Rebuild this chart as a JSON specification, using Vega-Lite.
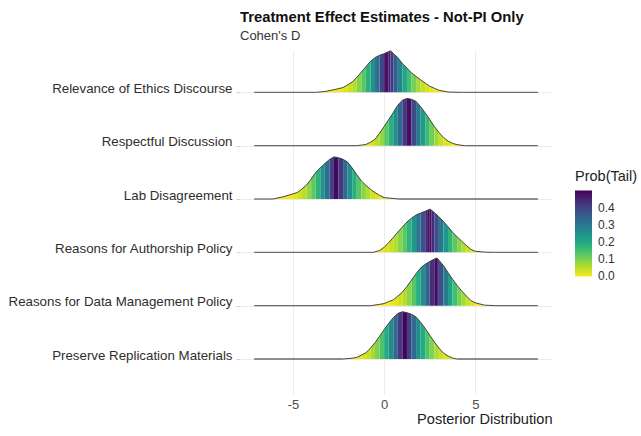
{
 "$schema": "https://vega.github.io/schema/vega-lite/v6.json",
 "width": 312, "height": 344,
 "autosize": {"type": "none"},
 "padding": {"left": 240, "top": 50, "right": 89, "bottom": 42},
 "background": "white",
 "config": {"view": {"stroke": null}, "font": "Liberation Sans"},
 "title": {"text": "Treatment Effect Estimates - Not-PI Only", "subtitle": "Cohen's D", "anchor": "start", "frame": "group", "fontSize": 14.8, "fontWeight": "bold", "color": "#111111", "subtitleFontSize": 13, "subtitleColor": "#333333", "subtitlePadding": 5, "offset": 6, "font": "Liberation Sans", "subtitleFont": "Liberation Sans"},
 "datasets": {
  "b": [
   {"k":5,"a":-7.12,"b":-3.75},{"k":5,"a":4.25,"b":8.43},
   {"k":4,"a":-7.12,"b":-1.5},{"k":4,"a":4.4,"b":8.43},
   {"k":3,"a":-7.12,"b":-6.1},{"k":3,"a":0.8,"b":8.43},
   {"k":2,"a":-7.12,"b":-0.6},{"k":2,"a":6.0,"b":8.43},
   {"k":1,"a":-7.12,"b":-0.75},{"k":1,"a":6.1,"b":8.43},
   {"k":0,"a":-7.12,"b":-2.25},{"k":0,"a":4.0,"b":8.43}
  ],
  "s": [
   {"k":5,"x":[-3.75,-3.25],"d":[0,0.015],"p":0.001},
   {"k":5,"x":[-3.25,-2.75],"d":[0.015,0.05],"p":0.003},
   {"k":5,"x":[-2.75,-2.25],"d":[0.05,0.09],"p":0.01},
   {"k":5,"x":[-2.25,-2],"d":[0.09,0.14],"p":0.023},
   {"k":5,"x":[-2,-1.75],"d":[0.14,0.195],"p":0.037},
   {"k":5,"x":[-1.75,-1.5],"d":[0.195,0.28],"p":0.058},
   {"k":5,"x":[-1.5,-1.25],"d":[0.28,0.38],"p":0.089},
   {"k":5,"x":[-1.25,-1],"d":[0.38,0.48],"p":0.128},
   {"k":5,"x":[-1,-0.75],"d":[0.48,0.58],"p":0.18},
   {"k":5,"x":[-0.75,-0.5],"d":[0.58,0.65],"p":0.242},
   {"k":5,"x":[-0.5,-0.25],"d":[0.65,0.695],"p":0.315},
   {"k":5,"x":[-0.25,0],"d":[0.695,0.725],"p":0.395},
   {"k":5,"x":[0,0.25],"d":[0.725,0.765],"p":0.481},
   {"k":5,"x":[0.25,0.35],"d":[0.765,0.78],"p":0.459},
   {"k":5,"x":[0.35,0.5],"d":[0.78,0.73],"p":0.416},
   {"k":5,"x":[0.5,0.75],"d":[0.73,0.65],"p":0.349},
   {"k":5,"x":[0.75,1],"d":[0.65,0.54],"p":0.273},
   {"k":5,"x":[1,1.25],"d":[0.54,0.455],"p":0.206},
   {"k":5,"x":[1.25,1.5],"d":[0.455,0.365],"p":0.15},
   {"k":5,"x":[1.5,1.75],"d":[0.365,0.3],"p":0.104},
   {"k":5,"x":[1.75,2],"d":[0.3,0.235],"p":0.07},
   {"k":5,"x":[2,2.25],"d":[0.235,0.175],"p":0.045},
   {"k":5,"x":[2.25,2.5],"d":[0.175,0.115],"p":0.028},
   {"k":5,"x":[2.5,2.75],"d":[0.115,0.077],"p":0.017},
   {"k":5,"x":[2.75,3],"d":[0.077,0.04],"p":0.01},
   {"k":5,"x":[3,3.5],"d":[0.04,0.006],"p":0.004},
   {"k":5,"x":[3.5,4.25],"d":[0.006,0],"p":0.001},

   {"k":4,"x":[-1.5,-1],"d":[0,0.022],"p":0.007},
   {"k":4,"x":[-1,-0.75],"d":[0.022,0.065],"p":0.018},
   {"k":4,"x":[-0.75,-0.5],"d":[0.065,0.12],"p":0.031},
   {"k":4,"x":[-0.5,-0.25],"d":[0.12,0.235],"p":0.053},
   {"k":4,"x":[-0.25,0],"d":[0.235,0.36],"p":0.083},
   {"k":4,"x":[0,0.25],"d":[0.36,0.49],"p":0.126},
   {"k":4,"x":[0.25,0.5],"d":[0.49,0.62],"p":0.181},
   {"k":4,"x":[0.5,0.75],"d":[0.62,0.76],"p":0.251},
   {"k":4,"x":[0.75,1],"d":[0.76,0.853],"p":0.332},
   {"k":4,"x":[1,1.25],"d":[0.853,0.885],"p":0.423},
   {"k":4,"x":[1.25,1.5],"d":[0.885,0.87],"p":0.483},
   {"k":4,"x":[1.5,1.75],"d":[0.87,0.83],"p":0.389},
   {"k":4,"x":[1.75,2],"d":[0.83,0.73],"p":0.302},
   {"k":4,"x":[2,2.25],"d":[0.73,0.615],"p":0.225},
   {"k":4,"x":[2.25,2.5],"d":[0.615,0.49],"p":0.16},
   {"k":4,"x":[2.5,2.75],"d":[0.49,0.36],"p":0.109},
   {"k":4,"x":[2.75,3],"d":[0.36,0.25],"p":0.071},
   {"k":4,"x":[3,3.25],"d":[0.25,0.155],"p":0.044},
   {"k":4,"x":[3.25,3.5],"d":[0.155,0.086],"p":0.026},
   {"k":4,"x":[3.5,3.75],"d":[0.086,0.043],"p":0.014},
   {"k":4,"x":[3.75,4],"d":[0.043,0.02],"p":0.008},
   {"k":4,"x":[4,4.4],"d":[0.02,0],"p":0.003},

   {"k":3,"x":[-6.1,-5.5],"d":[0,0.045],"p":0.002},
   {"k":3,"x":[-5.5,-5],"d":[0.045,0.096],"p":0.008},
   {"k":3,"x":[-5,-4.75],"d":[0.096,0.123],"p":0.019},
   {"k":3,"x":[-4.75,-4.5],"d":[0.123,0.19],"p":0.033},
   {"k":3,"x":[-4.5,-4.25],"d":[0.19,0.266],"p":0.054},
   {"k":3,"x":[-4.25,-4],"d":[0.266,0.374],"p":0.083},
   {"k":3,"x":[-4,-3.75],"d":[0.374,0.5],"p":0.123},
   {"k":3,"x":[-3.75,-3.5],"d":[0.5,0.584],"p":0.176},
   {"k":3,"x":[-3.5,-3.25],"d":[0.584,0.665],"p":0.24},
   {"k":3,"x":[-3.25,-3],"d":[0.665,0.74],"p":0.317},
   {"k":3,"x":[-3,-2.75],"d":[0.74,0.79],"p":0.401},
   {"k":3,"x":[-2.75,-2.5],"d":[0.79,0.775],"p":0.491},
   {"k":3,"x":[-2.5,-2.25],"d":[0.775,0.744],"p":0.419},
   {"k":3,"x":[-2.25,-2],"d":[0.744,0.692],"p":0.333},
   {"k":3,"x":[-2,-1.75],"d":[0.692,0.58],"p":0.255},
   {"k":3,"x":[-1.75,-1.5],"d":[0.58,0.458],"p":0.188},
   {"k":3,"x":[-1.5,-1.25],"d":[0.458,0.34],"p":0.133},
   {"k":3,"x":[-1.25,-1],"d":[0.34,0.257],"p":0.09},
   {"k":3,"x":[-1,-0.75],"d":[0.257,0.182],"p":0.058},
   {"k":3,"x":[-0.75,-0.5],"d":[0.182,0.12],"p":0.036},
   {"k":3,"x":[-0.5,-0.25],"d":[0.12,0.069],"p":0.022},
   {"k":3,"x":[-0.25,0],"d":[0.069,0.027],"p":0.012},
   {"k":3,"x":[0,0.8],"d":[0.027,0],"p":0.003},

   {"k":2,"x":[-0.6,-0.25],"d":[0,0.035],"p":0.007},
   {"k":2,"x":[-0.25,0],"d":[0.035,0.095],"p":0.014},
   {"k":2,"x":[0,0.25],"d":[0.095,0.18],"p":0.024},
   {"k":2,"x":[0.25,0.5],"d":[0.18,0.278],"p":0.038},
   {"k":2,"x":[0.5,0.75],"d":[0.278,0.38],"p":0.059},
   {"k":2,"x":[0.75,1],"d":[0.38,0.474],"p":0.088},
   {"k":2,"x":[1,1.25],"d":[0.474,0.57],"p":0.126},
   {"k":2,"x":[1.25,1.5],"d":[0.57,0.64],"p":0.174},
   {"k":2,"x":[1.5,1.75],"d":[0.64,0.7],"p":0.233},
   {"k":2,"x":[1.75,2],"d":[0.7,0.736],"p":0.301},
   {"k":2,"x":[2,2.25],"d":[0.736,0.77],"p":0.377},
   {"k":2,"x":[2.25,2.4],"d":[0.77,0.792],"p":0.442},
   {"k":2,"x":[2.4,2.5],"d":[0.792,0.81],"p":0.483},
   {"k":2,"x":[2.5,2.6],"d":[0.81,0.788],"p":0.483},
   {"k":2,"x":[2.6,2.75],"d":[0.788,0.746],"p":0.442},
   {"k":2,"x":[2.75,3],"d":[0.746,0.668],"p":0.377},
   {"k":2,"x":[3,3.25],"d":[0.668,0.58],"p":0.301},
   {"k":2,"x":[3.25,3.5],"d":[0.58,0.482],"p":0.233},
   {"k":2,"x":[3.5,3.75],"d":[0.482,0.377],"p":0.174},
   {"k":2,"x":[3.75,4],"d":[0.377,0.29],"p":0.126},
   {"k":2,"x":[4,4.25],"d":[0.29,0.21],"p":0.088},
   {"k":2,"x":[4.25,4.5],"d":[0.21,0.13],"p":0.059},
   {"k":2,"x":[4.5,4.75],"d":[0.13,0.057],"p":0.038},
   {"k":2,"x":[4.75,5],"d":[0.057,0.02],"p":0.024},
   {"k":2,"x":[5,5.5],"d":[0.02,0.005],"p":0.011},
   {"k":2,"x":[5.5,6],"d":[0.005,0],"p":0.003},

   {"k":1,"x":[-0.75,-0.25],"d":[0,0.025],"p":0.001},
   {"k":1,"x":[-0.25,0],"d":[0.025,0.04],"p":0.003},
   {"k":1,"x":[0,0.25],"d":[0.04,0.076],"p":0.005},
   {"k":1,"x":[0.25,0.5],"d":[0.076,0.11],"p":0.01},
   {"k":1,"x":[0.5,0.75],"d":[0.11,0.18],"p":0.019},
   {"k":1,"x":[0.75,1],"d":[0.18,0.253],"p":0.034},
   {"k":1,"x":[1,1.25],"d":[0.253,0.36],"p":0.055},
   {"k":1,"x":[1.25,1.5],"d":[0.36,0.48],"p":0.087},
   {"k":1,"x":[1.5,1.75],"d":[0.48,0.6],"p":0.132},
   {"k":1,"x":[1.75,2],"d":[0.6,0.71],"p":0.189},
   {"k":1,"x":[2,2.25],"d":[0.71,0.777],"p":0.26},
   {"k":1,"x":[2.25,2.5],"d":[0.777,0.83],"p":0.343},
   {"k":1,"x":[2.5,2.75],"d":[0.83,0.873],"p":0.434},
   {"k":1,"x":[2.75,2.9],"d":[0.873,0.894],"p":0.49},
   {"k":1,"x":[2.9,3],"d":[0.894,0.854],"p":0.443},
   {"k":1,"x":[3,3.25],"d":[0.854,0.752],"p":0.378},
   {"k":1,"x":[3.25,3.5],"d":[0.752,0.62],"p":0.292},
   {"k":1,"x":[3.5,3.75],"d":[0.62,0.495],"p":0.216},
   {"k":1,"x":[3.75,4],"d":[0.495,0.38],"p":0.153},
   {"k":1,"x":[4,4.25],"d":[0.38,0.277],"p":0.103},
   {"k":1,"x":[4.25,4.5],"d":[0.277,0.184],"p":0.067},
   {"k":1,"x":[4.5,4.75],"d":[0.184,0.097],"p":0.041},
   {"k":1,"x":[4.75,5],"d":[0.097,0.053],"p":0.024},
   {"k":1,"x":[5,5.5],"d":[0.053,0.01],"p":0.01},
   {"k":1,"x":[5.5,6.1],"d":[0.01,0],"p":0.002},

   {"k":0,"x":[-2.25,-1.75],"d":[0,0.015],"p":0.003},
   {"k":0,"x":[-1.75,-1.5],"d":[0.015,0.031],"p":0.008},
   {"k":0,"x":[-1.5,-1.25],"d":[0.031,0.074],"p":0.015},
   {"k":0,"x":[-1.25,-1],"d":[0.074,0.116],"p":0.026},
   {"k":0,"x":[-1,-0.75],"d":[0.116,0.205],"p":0.041},
   {"k":0,"x":[-0.75,-0.5],"d":[0.205,0.306],"p":0.065},
   {"k":0,"x":[-0.5,-0.25],"d":[0.306,0.427],"p":0.097},
   {"k":0,"x":[-0.25,0],"d":[0.427,0.55],"p":0.139},
   {"k":0,"x":[0,0.25],"d":[0.55,0.669],"p":0.194},
   {"k":0,"x":[0.25,0.5],"d":[0.669,0.775],"p":0.258},
   {"k":0,"x":[0.5,0.75],"d":[0.775,0.854],"p":0.334},
   {"k":0,"x":[0.75,1],"d":[0.854,0.887],"p":0.416},
   {"k":0,"x":[1,1.25],"d":[0.887,0.869],"p":0.498},
   {"k":0,"x":[1.25,1.5],"d":[0.869,0.84],"p":0.412},
   {"k":0,"x":[1.5,1.75],"d":[0.84,0.788],"p":0.33},
   {"k":0,"x":[1.75,2],"d":[0.788,0.69],"p":0.256},
   {"k":0,"x":[2,2.25],"d":[0.69,0.574],"p":0.191},
   {"k":0,"x":[2.25,2.5],"d":[0.574,0.447],"p":0.138},
   {"k":0,"x":[2.5,2.75],"d":[0.447,0.32],"p":0.095},
   {"k":0,"x":[2.75,3],"d":[0.32,0.205],"p":0.064},
   {"k":0,"x":[3,3.25],"d":[0.205,0.1125],"p":0.041},
   {"k":0,"x":[3.25,3.5],"d":[0.1125,0.056],"p":0.025},
   {"k":0,"x":[3.5,3.75],"d":[0.056,0.017],"p":0.015},
   {"k":0,"x":[3.75,4],"d":[0.017,0],"p":0.008}
  ]
 },
 "layer": [
  {
   "data": {"name": "b"},
   "mark": {"type": "rule", "color": "#6b6b6b", "strokeWidth": 1.3},
   "encoding": {
    "x": {"field": "a", "type": "quantitative", "title": "Posterior Distribution",
      "scale": {"domain": [-7.9, 9.2], "nice": false, "zero": false},
      "axis": {"values": [-5, 0, 5], "labelExpr": "'' + datum.value", "titleAnchor": "end", "titleFontSize": 14.6, "titleFontWeight": "normal", "titleColor": "#222222", "titlePadding": 0, "titleFont": "Liberation Sans", "domain": false, "ticks": false, "labelFontSize": 13, "labelColor": "#4d4d4d", "labelFont": "Liberation Sans", "labelPadding": 4, "grid": true, "gridColor": "#ebebeb", "gridWidth": 1}},
    "x2": {"field": "b"},
    "y": {"field": "k", "type": "quantitative", "title": null,
      "scale": {"domain": [-0.656, 5.794], "nice": false, "zero": false},
      "axis": {"values": [0, 1, 2, 3, 4, 5], "labelExpr": "['Preserve Replication Materials','Reasons for Data Management Policy','Reasons for Authorship Policy','Lab Disagreement','Respectful Discussion','Relevance of Ethics Discourse'][datum.value]", "domain": false, "ticks": true, "tickSize": 4, "tickColor": "#d0d0d0", "labelFontSize": 13.3, "labelColor": "#2e2e2e", "labelFont": "Liberation Sans", "labelPadding": 4, "labelBaseline": "alphabetic", "labelLimit": 400, "grid": true, "gridColor": "#ebebeb", "gridWidth": 1}}
   }
  },
  {
   "data": {"name": "s"},
   "transform": [
    {"window": [{"op": "row_number", "as": "i"}]},
    {"flatten": ["x", "d"]},
    {"calculate": "datum.k + datum.d", "as": "y"}
   ],
   "layer": [
    {
     "mark": {"type": "area", "stroke": null},
     "encoding": {
      "x": {"field": "x", "type": "quantitative", "title": "Posterior Distribution", "scale": {"domain": [-7.9, 9.2], "nice": false, "zero": false}},
      "y": {"field": "y", "type": "quantitative", "title": null, "scale": {"domain": [-0.656, 5.794], "nice": false, "zero": false}},
      "y2": {"field": "k"},
      "detail": {"field": "i"},
      "color": {"field": "p", "type": "quantitative", "title": "Prob(Tail)",
        "scale": {"scheme": "viridis", "reverse": true, "domain": [0, 0.5]},
        "legend": {"type": "gradient", "orient": "none", "legendX": 335, "legendY": 120, "titleFontSize": 14.5, "titleColor": "#222222", "titleFont": "Liberation Sans", "titleFontWeight": "normal", "titlePadding": 6, "gradientLength": 86, "gradientThickness": 17, "values": [0.001, 0.1, 0.2, 0.3, 0.4], "format": ".1f", "labelFontSize": 12, "labelColor": "#333333", "labelFont": "Liberation Sans", "labelOffset": 6, "labelOverlap": false, "gradientStrokeWidth": 0, "direction": "vertical"}}
     }
    },
    {
     "mark": {"type": "line", "color": "#333333", "strokeWidth": 0.9},
     "encoding": {
      "x": {"field": "x", "type": "quantitative", "title": "Posterior Distribution", "scale": {"domain": [-7.9, 9.2], "nice": false, "zero": false}},
      "y": {"field": "y", "type": "quantitative", "title": null, "scale": {"domain": [-0.656, 5.794], "nice": false, "zero": false}},
      "detail": {"field": "k"}
     }
    }
   ]
  }
 ]
}
